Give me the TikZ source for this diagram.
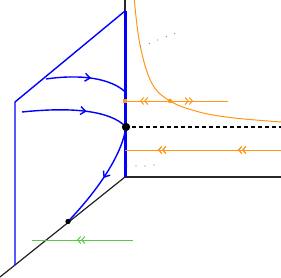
\documentclass[tikz,border=0pt]{standalone}
\usetikzlibrary{arrows.meta,decorations.markings}
\definecolor{myorange}{RGB}{255,150,20}
\definecolor{mygreen}{RGB}{90,200,70}
\definecolor{axisgray}{RGB}{40,40,40}
\begin{document}
\begin{tikzpicture}[x=1pt,y=-1pt,
  axisline/.style={axisgray,line width=1.2pt},
  planeline/.style={blue,line width=1.4pt},
  flowline/.style={blue,line width=1.4pt},
  oline/.style={myorange,line width=1pt},
  gline/.style={mygreen,line width=1pt},
  sarrow/.style={postaction=decorate,decoration={markings,mark=at position #1 with {\arrow{Straight Barb[length=5pt,width=8pt]}}}},
  darrow/.style={postaction=decorate,decoration={markings,mark=at position #1 with {\arrow{Straight Barb[length=3pt,width=7pt] Straight Barb[length=3pt,width=7pt]}}}},
  gdot/.style={circle,fill=gray,inner sep=0pt,minimum size=1.3pt}]
\useasboundingbox (0,0) rectangle (281,278);
% coordinates
\coordinate (O) at (125,177);
\coordinate (Ztop) at (125,0);
\coordinate (Btop) at (125,11);
\coordinate (Xend) at (281,177);
\coordinate (Yend) at (0,277);
\coordinate (PL1) at (15,102);
\coordinate (PL2) at (15,265);
% axes
\draw[axisline] (Ztop) -- (Btop);
\draw[axisline] (O) -- (Xend);
\draw[axisline] (O) -- (Yend);
% plane
\draw[planeline] (Btop) -- (PL1) -- (PL2);
\draw[blue,line width=3pt] (Btop) -- (O);
% dashed line
\node[circle,fill=black,inner sep=0pt,minimum size=8pt] (E) at (126,127) {};
\coordinate (Dend) at (281,127);
\draw[black,line width=1.3pt,dash pattern=on 4pt off 3pt] (E.east) ++(2pt,0) -- (Dend);
% orange hyperbola
\draw[oline] plot[smooth,tension=0.6] coordinates {(134.3,0) (140,45) (151.7,83) (170,101) (198,111.7) (231.7,117.7) (281,122)};
% orange top line
\node[circle,fill=myorange,inner sep=0pt,minimum size=4.5pt] (S) at (170,101) {};
\node[fill=myorange,inner sep=0pt,minimum size=4.5pt] (L) at (125,101) {};
\coordinate (R) at (228,101);
\draw[oline,darrow=30pt] (S.center) -- (L.center);
\draw[oline,darrow=23pt] (S.center) -- (R);
% orange bottom line
\coordinate (B1) at (281,150);
\coordinate (B2) at (125,150);
\draw[oline,darrow=43pt,darrow=123pt] (B1) -- (B2);
% blue flow curves
\coordinate (C1a) at (46,79);
\coordinate (C1b) at (125,91.7);
\draw[flowline,sarrow=0.55] (C1a) .. controls (80,74) and (110,78) .. (C1b);
\coordinate (C2a) at (22,112);
\draw[flowline,sarrow=0.6] (C2a) .. controls (70,107) and (110,110) .. (E.center);
\node[circle,fill=black,inner sep=0pt,minimum size=5pt] (F) at (68,221.5) {};
\draw[flowline,sarrow=0.5] (E.center) .. controls (122,155) and (98,190) .. (F.center);
% green line
\coordinate (G1) at (133,240);
\coordinate (G2) at (32,240);
\draw[gline,darrow=56pt] (G1) -- (G2);
% grey dots
\foreach \p in {(140.7,46),(149.3,43.3),(157.7,40),(166.3,36.7),(174.7,33.7),(127,166),(136,166),(145,166),(154,165)}
  \node[gdot] at \p {};
% redraw dots on top
\node[circle,fill=black,inner sep=0pt,minimum size=8pt] at (E) {};
\node[circle,fill=black,inner sep=0pt,minimum size=5pt] at (F) {};
\end{tikzpicture}
\end{document}
